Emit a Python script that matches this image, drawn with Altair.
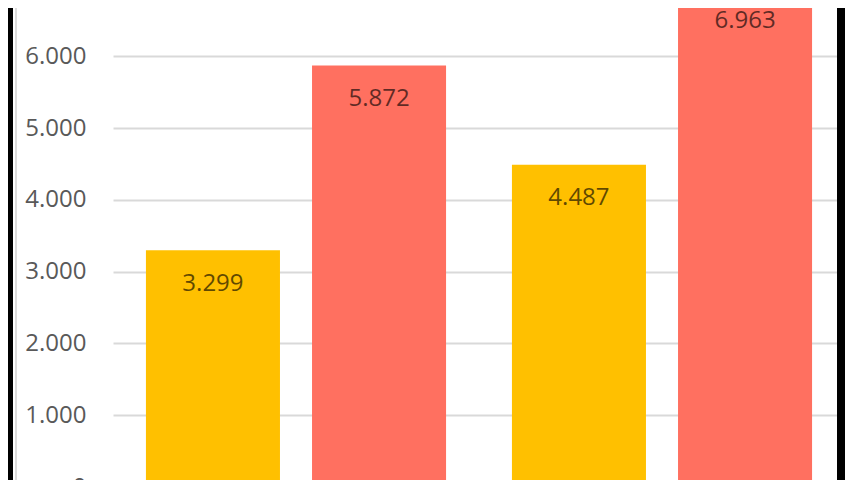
import altair as alt
import pandas as pd

# ---- data ----
groups = ["Grupo A", "Grupo A", "Grupo B", "Grupo B"]
series = ["Serie 1", "Serie 2", "Serie 1", "Serie 2"]
values = [3299, 5872, 4487, 6963]

series_names = ["Serie 1", "Serie 2"]
series_colors = ["#FFC000", "#FF7060"]
y_ticks = [0, 1000, 2000, 3000, 4000, 5000, 6000, 7000]

df = pd.DataFrame({"group": groups, "series": series, "value": values})

FONT = "Open Sans"
W, H = 732, 472
LABEL_EXPR = "replace(format(datum.value, ',.0f'), ',', '.')"

y_scale = alt.Scale(domain=[0, 7000], range=[479, -23.6], nice=False)
x_enc = alt.X("group:N", axis=None,
              scale=alt.Scale(paddingInner=0.18, paddingOuter=0.09))
xo_enc = alt.XOffset("series:N",
                     scale=alt.Scale(domain=series_names, paddingInner=0.193, paddingOuter=0))

bars = alt.Chart(df).mark_bar().encode(
    x=x_enc,
    xOffset=xo_enc,
    y=alt.Y("value:Q", scale=y_scale,
            axis=alt.Axis(values=y_ticks, labelExpr=LABEL_EXPR, grid=True,
                          gridColor="#D9D9D9", gridWidth=2, domain=False, ticks=False,
                          labelFont=FONT, labelFontSize=24, labelColor="#595959",
                          labelPadding=27, title=None)),
    color=alt.Color("series:N", scale=alt.Scale(domain=series_names, range=series_colors),
                    legend=None),
)

labels = alt.Chart(df).transform_calculate(
    label=LABEL_EXPR
).mark_text(dy=33.5, font=FONT, fontSize=24, color="black", opacity=0.62,
            baseline="middle").encode(
    x=x_enc,
    xOffset=xo_enc,
    y=alt.Y("value:Q", scale=y_scale),
    text="label:N",
)

frame_data = alt.Data(values=[{"k": 1}])
left_border = alt.Chart(frame_data).mark_rule(color="black", strokeWidth=8).encode(
    x=alt.value(-104), y=alt.value(-30), y2=alt.value(520))
left_thin = alt.Chart(frame_data).mark_rule(color="#D0D0D0", strokeWidth=1.5).encode(
    x=alt.value(-97), y=alt.value(-30), y2=alt.value(520))
right_border = alt.Chart(frame_data).mark_rule(color="black", strokeWidth=8).encode(
    x=alt.value(728), y=alt.value(-30), y2=alt.value(520))

chart = alt.layer(bars, labels, left_border, left_thin, right_border).properties(
    width=W, height=H,
    padding={"left": 105, "top": 0, "right": 0, "bottom": 0},
    autosize=alt.AutoSizeParams(type="none"),
    background="white",
).configure_view(strokeOpacity=0)

chart.save("out.html", embed_options={"renderer": "svg", "actions": False})
